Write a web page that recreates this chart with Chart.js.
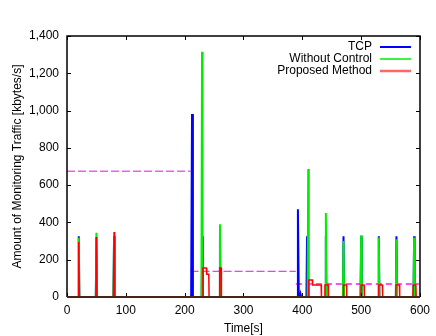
<!DOCTYPE html>
<html>
<head>
<meta charset="utf-8">
<script src="https://cdn.jsdelivr.net/npm/chart.js@4.4.1/dist/chart.umd.min.js"></script>
<style>
  html, body { margin: 0; padding: 0; background: #fff; }
  #wrap { width: 436px; height: 336px; }
</style>
</head>
<body>
<div id="wrap"><canvas id="chart" width="436" height="336"></canvas></div>
<script>
// Axis ticks
const xTicks = [0, 100, 200, 300, 400, 500, 600];
const yTicks = [0, 200, 400, 600, 800, 1000, 1200, 1400];

// TCP (time [s], traffic [kbytes/s])
const tcpTime = [0, 19, 20, 21, 49, 50, 51, 79, 80, 81, 211, 212.5, 214, 229, 230, 231, 259, 260, 261,
  391, 392.5, 394, 396, 397, 398, 407, 408, 409, 439, 440, 441, 469, 470, 471, 499, 500, 501,
  529, 530, 531, 559, 560, 561, 589, 590, 591, 600];
const tcpValue = [0, 0, 326, 0, 0, 322, 0, 0, 326, 0, 0, 981, 0, 0, 326, 0, 0, 326, 0,
  0, 471, 0, 0, 15, 0, 0, 326, 0, 0, 326, 0, 0, 326, 0, 0, 326, 0,
  0, 326, 0, 0, 326, 0, 0, 326, 0, 0];

// Without Control
const noCtrlTime = [0, 19, 20, 21, 49, 50, 51, 79, 80, 81, 228.5, 229.5, 230.5, 259, 260, 261,
  409, 410, 411, 439, 440, 441, 469, 470, 471, 499, 500, 501, 529, 530, 531,
  559, 560, 561, 589, 590, 591, 600];
const noCtrlValue = [0, 0, 318, 0, 0, 344, 0, 0, 326, 0, 0, 1316, 0, 0, 390, 0,
  0, 686, 0, 0, 451, 0, 0, 300, 0, 0, 331, 0, 0, 319, 0,
  0, 310, 0, 0, 319, 0, 0];

// Proposed Method
const propTime = [0, 19, 20, 21, 49, 50, 51, 79, 80, 81,
  230.5, 231, 237, 237.5, 241, 241.5, 259, 259.5, 262, 262.5,
  410.5, 411, 417, 417.5, 432, 432.5, 438, 438.5, 444, 444.5,
  469.5, 470, 475, 475.5, 499.5, 500, 505, 505.5, 529.5, 530, 536, 536.5,
  558.5, 559, 565, 565.5, 588, 588.5, 593, 593.5, 600];
const propValue = [0, 0, 295, 0, 0, 322, 0, 0, 349, 0,
  0, 156, 156, 122, 122, 0, 0, 156, 156, 0,
  0, 91, 91, 65, 65, 0, 0, 65, 65, 0,
  0, 65, 65, 0, 0, 65, 65, 0, 0, 65, 65, 0,
  0, 65, 65, 0, 0, 65, 65, 0, 0];

// Dashed reference levels
const refTime = [[0, 210], [210, 389], [389, 598]];
const refValue = [675, 138, 70];

const FONT = '"Liberation Sans", Arial, Helvetica, sans-serif';

function toPoints(xs, ys) {
  return xs.map((x, i) => ({ x: x, y: ys[i] }));
}

const refSets = refTime.map((span, i) => ({
  label: 'ref' + i,
  data: span.map(x => ({ x: x, y: refValue[i] })),
  borderColor: i < 2 ? '#e010e0' : '#ff4cff',
  borderWidth: i < 2 ? 1 : 2,
  borderDash: i < 2 ? [8, 3] : [6, 4],
  pointRadius: 0,
  order: 3
}));

// gnuplot style frame, inward ticks and key
const framePlugin = {
  id: 'frame',
  afterDraw(chart) {
    const ctx = chart.ctx;
    const a = chart.chartArea;
    const xs = chart.scales.x, ys = chart.scales.y;
    ctx.save();
    ctx.strokeStyle = '#000';
    ctx.lineWidth = 1.5;
    ctx.beginPath();
    ctx.moveTo(a.left, a.bottom);
    ctx.lineTo(a.left, a.top);
    ctx.lineTo(a.right, a.top);
    ctx.lineTo(a.right, a.bottom);
    ctx.stroke();
    ctx.lineWidth = 1;
    ctx.beginPath();
    xTicks.forEach(v => {
      const p = Math.round(xs.getPixelForValue(v)) + 0.5;
      ctx.moveTo(p, a.bottom); ctx.lineTo(p, a.bottom - 4);
      ctx.moveTo(p, a.top); ctx.lineTo(p, a.top + 4);
    });
    yTicks.forEach(v => {
      const p = Math.round(ys.getPixelForValue(v)) + 0.5;
      ctx.moveTo(a.left, p); ctx.lineTo(a.left + 4, p);
      ctx.moveTo(a.right, p); ctx.lineTo(a.right - 4, p);
    });
    ctx.stroke();
    // baseline
    ctx.strokeStyle = '#4a2414';
    ctx.lineWidth = 2;
    ctx.beginPath();
    ctx.moveTo(a.left, a.bottom);
    ctx.lineTo(a.right, a.bottom);
    ctx.stroke();

    // key
    const keys = [
      { text: 'TCP', color: '#0000ff', w: 2 },
      { text: 'Without Control', color: '#00ee00', w: 1.5 },
      { text: 'Proposed Method', color: '#ff6666', w: 2.5 }
    ];
    ctx.font = '12px ' + FONT;
    ctx.textAlign = 'right';
    ctx.textBaseline = 'middle';
    keys.forEach((k, i) => {
      const y = 47 + i * 12;
      ctx.fillStyle = '#000';
      ctx.fillText(k.text, 372, y);
      ctx.strokeStyle = k.color;
      ctx.lineWidth = k.w;
      ctx.beginPath();
      ctx.moveTo(380, y); ctx.lineTo(411, y);
      ctx.stroke();
    });
    ctx.restore();
  }
};

new Chart(document.getElementById('chart').getContext('2d'), {
  type: 'line',
  data: {
    datasets: [
      {
        label: 'Proposed Method',
        data: toPoints(propTime, propValue),
        borderColor: '#ff0000',
        borderWidth: 1.5,
        pointRadius: 0,
        order: 0
      },
      {
        label: 'Without Control',
        data: toPoints(noCtrlTime, noCtrlValue),
        borderColor: '#00ee00',
        borderWidth: 2,
        pointRadius: 0,
        order: 1
      },
      {
        label: 'TCP',
        data: toPoints(tcpTime, tcpValue),
        borderColor: '#0000ff',
        borderWidth: 2,
        pointRadius: 0,
        order: 2
      }
    ].concat(refSets)
  },
  options: {
    responsive: false,
    animation: false,
    layout: { padding: { left: 0, right: 12, top: 36, bottom: 0 } },
    scales: {
      x: {
        type: 'linear',
        min: 0,
        max: 600,
        afterFit: s => { s.height = 39; },
        afterBuildTicks: s => { s.ticks = xTicks.map(v => ({ value: v })); },
        grid: { display: false, drawTicks: false },
        border: { display: false },
        ticks: { padding: 6, color: '#000', font: { family: FONT, size: 12 }, maxRotation: 0 },
        title: { display: true, text: 'Time[s]', color: '#000', font: { family: FONT, size: 12 }, padding: { top: 0, bottom: 0 } }
      },
      y: {
        min: 0,
        max: 1400,
        afterFit: s => { s.width = 67; },
        afterBuildTicks: s => { s.ticks = yTicks.map(v => ({ value: v })); },
        grid: { display: false, drawTicks: false },
        border: { display: false },
        ticks: { padding: 8, color: '#000', font: { family: FONT, size: 12 } },
        title: { display: true, text: 'Amount of Monitoring Traffic [kbytes/s]', color: '#000', font: { family: FONT, size: 12 }, padding: { top: 10, bottom: 0 } }
      }
    },
    plugins: {
      legend: { display: false },
      tooltip: { enabled: false }
    }
  },
  plugins: [framePlugin]
});
</script>
</body>
</html>
